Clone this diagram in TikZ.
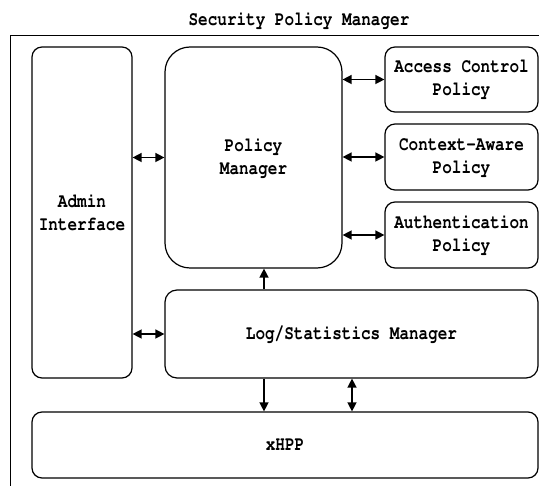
\documentclass[tikz,border=0pt]{standalone}
\usepackage[T1]{fontenc}
\usepackage{courier}
\usepackage{graphicx}
\usetikzlibrary{arrows.meta}

\newcommand{\sq}[1]{\scalebox{0.8}[1]{#1}}

\tikzset{
  blk/.style={draw, line width=1.2pt, rounded corners=10pt, inner sep=0pt, align=center},
  lbl/.style={font=\ttfamily\bfseries\fontsize{20}{23}\selectfont},
  link/.style={line width=1.4pt, {Triangle[length=9pt, width=9pt]}-{Triangle[length=9pt, width=9pt]}},
  onelink/.style={line width=1.4pt, -{Triangle[length=9pt, width=9pt]}}
}

\begin{document}
\begin{tikzpicture}[x=1pt, y=-1pt]
\useasboundingbox (0, 0) rectangle (539, 486);
\coordinate (frame sw) at (10, 486);
\coordinate (frame ne) at (539, 35);
\draw [line width=0.9pt] (frame sw) |- (frame ne);
\node [lbl] (title) at (299, 20) {\sq{Security Policy Manager}};

\node [blk, lbl, minimum width=100pt, minimum height=331pt] (admin) at (82, 212.5) {\sq{Admin}\\\sq{Interface}};
\node [blk, lbl, rounded corners=25pt, minimum width=177pt, minimum height=221pt] (pm) at (253.5, 157.5) {\sq{Policy}\\\sq{Manager}};
\node [blk, lbl, minimum width=153pt, minimum height=65pt] (acp) at (461.5, 79.5) {\sq{Access Control}\\\sq{Policy}};
\node [blk, lbl, minimum width=153pt, minimum height=66pt] (cap) at (461.5, 157) {\sq{Context-Aware}\\\sq{Policy}};
\node [blk, lbl, minimum width=153pt, minimum height=66pt] (aup) at (461.5, 235) {\sq{Authentication}\\\sq{Policy}};
\node [blk, lbl, rounded corners=12pt, minimum width=373pt, minimum height=88pt] (log) at (351.5, 334) {\sq{Log/Statistics Manager}};
\node [blk, lbl, minimum width=506pt, minimum height=66pt] (xhpp) at (285, 445) {\sq{xHPP}};

\coordinate (upx) at (264, 0);
\coordinate (bix) at (352, 0);
\draw [link] (admin.east |- pm.west) -- (pm.west);
\draw [link] (admin.east |- log.west) -- (log.west);
\draw [link] (pm.east |- acp.west) -- (acp.west);
\draw [link] (pm.east |- cap.west) -- (cap.west);
\draw [link] (pm.east |- aup.west) -- (aup.west);
\draw [onelink] (log.north -| upx) -- (pm.south -| upx);
\draw [onelink] (log.south -| upx) -- (xhpp.north -| upx);
\draw [link] (log.south -| bix) -- (xhpp.north -| bix);
\end{tikzpicture}
\end{document}
